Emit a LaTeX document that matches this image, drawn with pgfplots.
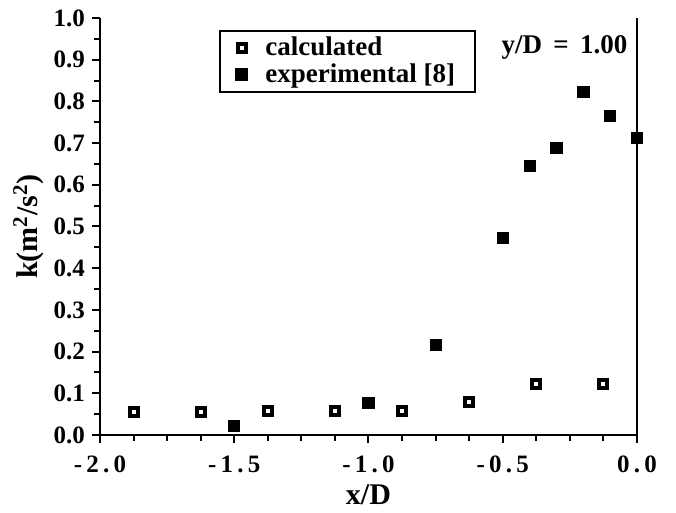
\documentclass[border=0pt]{standalone}
\usepackage{pgfplots}
\pgfplotsset{compat=1.18}
\usepackage{fontspec}
\setmainfont{Liberation Serif}
\begin{document}
\begin{tikzpicture}
\begin{axis}[
  scale only axis,
  width=268.5pt, height=208.5pt,
  xmin=-2, xmax=0, ymin=0, ymax=1,
  axis x line*=bottom, axis y line*=left,
  axis line style={line width=1.2pt, -},
  xtick={-2,-1.5,-1,-0.5,0},
  xticklabels={-\,2\,.\,0, -\,1\,.\,5, -\,1\,.\,0, -\,0\,.\,5, 0\,.\,0},
  minor xtick={-1.875,-1.75,-1.625,-1.375,-1.25,-1.125,-0.875,-0.75,-0.625,-0.375,-0.25,-0.125},
  ytick={0,0.1,...,1.0},
  minor ytick={0.05,0.15,...,0.95},
  tick align=outside,
  major tick length=4pt, minor tick length=3pt,
  every tick/.style={line width=1pt, black},
  /pgf/number format/assume math mode=true,
  yticklabel style={/pgf/number format/.cd, fixed, fixed zerofill, precision=1},
  tick label style={font=\fontsize{12.5}{14}\selectfont\bfseries},
  xticklabel style={yshift=-3pt},
  xlabel={x/D}, ylabel={k(m$^{\mathbf{2}}$/s$^{\mathbf{2}}$)},
  label style={font=\fontsize{15}{17}\selectfont\bfseries},
  xlabel style={yshift=1pt},
  ylabel style={yshift=-2pt},
  legend style={at={(rel axis cs:0.222,0.971)}, anchor=north west, draw=black, line width=1pt,
    font=\fontsize{13.5}{14}\selectfont\bfseries, row sep=-1.5pt, inner xsep=8pt, inner ysep=1pt},
  legend cell align=left,
  legend image code/.code={\draw[#1] plot coordinates {(0.1cm,0cm)};},
  clip=false,
]
\addplot[only marks, mark=square*, mark size=2pt, mark options={fill=white, draw=black, line width=2pt}]
coordinates {(-1.875,0.055) (-1.625,0.055) (-1.375,0.057) (-1.125,0.057) (-0.875,0.057) (-0.625,0.078) (-0.375,0.122) (-0.125,0.122)};
\addlegendentry{\hspace{7pt}calculated}
\addplot[only marks, mark=square*, mark size=2.8pt, mark options={fill=black, draw=black}]
coordinates {(-1.5,0.022) (-1.0,0.077) (-0.75,0.217) (-0.5,0.473) (-0.4,0.645) (-0.3,0.688) (-0.2,0.822) (-0.1,0.765) (0.0,0.712)};
\addlegendentry{\hspace{7pt}experimental [8]}
\draw[line width=1.2pt] (rel axis cs:1,0) -- (rel axis cs:1,1);
\node[font=\fontsize{13.5}{14}\selectfont\bfseries] at (axis cs:-0.27,0.93) {y/D \,=\, 1.00};
\end{axis}
\path[use as bounding box] (-50pt,-39pt) rectangle (288pt,217.5pt);
\end{tikzpicture}
\end{document}
